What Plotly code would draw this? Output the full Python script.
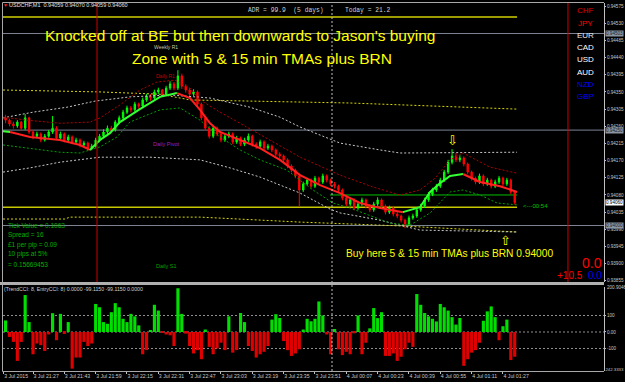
import plotly.graph_objects as go

# ---------------- data ----------------
time_tick_minute = [1, 16, 32, 48, 64, 80, 96, 112, 128, 144, 160, 176, 192, 208, 224, 240, 256]
time_tick_label = ["3 Jul 2015", "3 Jul 21:27", "3 Jul 21:43", "3 Jul 21:59", "3 Jul 22:15",
                   "3 Jul 22:31", "3 Jul 22:47", "3 Jul 23:03", "3 Jul 23:19", "3 Jul 23:35",
                   "3 Jul 23:51", "4 Jul 00:07", "4 Jul 00:23", "4 Jul 00:39", "4 Jul 00:55",
                   "4 Jul 01:11", "4 Jul 01:27"]
price_ticks = [0.94575, 0.94530, 0.94485, 0.94440, 0.94395, 0.94350, 0.94305, 0.94260,
               0.94215, 0.94170, 0.94125, 0.94080, 0.94035, 0.93990, 0.93945, 0.93900, 0.93855]
cci_ticks = [100, 0, -100]
cci_tick_text = ["100", "0.00", "-100"]

# bars: minutes after 3 Jul 21:11 (2-minute candles)
bar_minute = list(range(2, 263, 2))

opens = [0.94282, 0.94276, 0.94266, 0.94261, 0.94271, 0.94255, 0.94282, 0.94245, 0.94234, 0.94240,
         0.94224, 0.94234, 0.94245, 0.94255, 0.94229, 0.94240, 0.94224, 0.94232, 0.94219, 0.94224,
         0.94211, 0.94216, 0.94203, 0.94208, 0.94224, 0.94234, 0.94245, 0.94255, 0.94250, 0.94271,
         0.94282, 0.94297, 0.94308, 0.94303, 0.94318, 0.94313, 0.94329, 0.94339, 0.94334, 0.94350,
         0.94355, 0.94344, 0.94360, 0.94371, 0.94360, 0.94392, 0.94365, 0.94355, 0.94344, 0.94350,
         0.94318, 0.94282, 0.94255, 0.94234, 0.94255, 0.94240, 0.94224, 0.94234, 0.94240, 0.94219,
         0.94229, 0.94213, 0.94224, 0.94234, 0.94213, 0.94208, 0.94219, 0.94203, 0.94208, 0.94198,
         0.94187, 0.94182, 0.94172, 0.94156, 0.94145, 0.94130, 0.94093, 0.94109, 0.94119, 0.94103,
         0.94124, 0.94114, 0.94130, 0.94119, 0.94109, 0.94103, 0.94093, 0.94072, 0.94056, 0.94067,
         0.94046, 0.94056, 0.94067, 0.94051, 0.94041, 0.94056, 0.94067, 0.94051, 0.94035, 0.94046,
         0.94030, 0.94025, 0.94014, 0.94004, 0.94020, 0.94025, 0.94041, 0.94051, 0.94067, 0.94082,
         0.94093, 0.94103, 0.94119, 0.94140, 0.94166, 0.94182, 0.94172, 0.94177, 0.94161, 0.94140,
         0.94124, 0.94114, 0.94130, 0.94109, 0.94119, 0.94103, 0.94114, 0.94124, 0.94109, 0.94119,
         0.94088]
highs = [0.94290, 0.94280, 0.94272, 0.94276, 0.94274, 0.94292, 0.94285, 0.94250, 0.94246, 0.94244,
         0.94240, 0.94250, 0.94287, 0.94260, 0.94246, 0.94244, 0.94238, 0.94236, 0.94230, 0.94228,
         0.94222, 0.94220, 0.94214, 0.94230, 0.94240, 0.94252, 0.94262, 0.94261, 0.94276, 0.94288,
         0.94303, 0.94314, 0.94313, 0.94324, 0.94322, 0.94335, 0.94345, 0.94344, 0.94356, 0.94361,
         0.94358, 0.94366, 0.94378, 0.94376, 0.94407, 0.94398, 0.94370, 0.94360, 0.94357, 0.94354,
         0.94322, 0.94286, 0.94260, 0.94262, 0.94259, 0.94244, 0.94240, 0.94246, 0.94244, 0.94235,
         0.94233, 0.94230, 0.94241, 0.94238, 0.94218, 0.94225, 0.94223, 0.94214, 0.94212, 0.94202,
         0.94192, 0.94186, 0.94176, 0.94160, 0.94149, 0.94134, 0.94115, 0.94125, 0.94123, 0.94130,
         0.94128, 0.94136, 0.94134, 0.94123, 0.94114, 0.94107, 0.94097, 0.94076, 0.94073, 0.94071,
         0.94062, 0.94073, 0.94071, 0.94055, 0.94062, 0.94074, 0.94071, 0.94055, 0.94052, 0.94050,
         0.94035, 0.94029, 0.94018, 0.94026, 0.94031, 0.94047, 0.94057, 0.94073, 0.94088, 0.94099,
         0.94109, 0.94125, 0.94146, 0.94172, 0.94200, 0.94190, 0.94184, 0.94181, 0.94165, 0.94144,
         0.94128, 0.94136, 0.94134, 0.94125, 0.94123, 0.94120, 0.94130, 0.94128, 0.94125, 0.94123,
         0.94092]
lows = [0.94268, 0.94260, 0.94254, 0.94256, 0.94248, 0.94250, 0.94240, 0.94226, 0.94229, 0.94218,
        0.94220, 0.94230, 0.94240, 0.94224, 0.94225, 0.94218, 0.94219, 0.94213, 0.94214, 0.94205,
        0.94206, 0.94197, 0.94198, 0.94204, 0.94220, 0.94230, 0.94240, 0.94244, 0.94246, 0.94266,
        0.94277, 0.94292, 0.94296, 0.94298, 0.94306, 0.94308, 0.94324, 0.94327, 0.94329, 0.94344,
        0.94338, 0.94339, 0.94355, 0.94354, 0.94355, 0.94358, 0.94348, 0.94338, 0.94339, 0.94312,
        0.94276, 0.94248, 0.94228, 0.94229, 0.94234, 0.94218, 0.94219, 0.94229, 0.94213, 0.94214,
        0.94208, 0.94208, 0.94219, 0.94207, 0.94201, 0.94203, 0.94197, 0.94198, 0.94192, 0.94181,
        0.94176, 0.94166, 0.94150, 0.94139, 0.94124, 0.94049, 0.94088, 0.94104, 0.94097, 0.94098,
        0.94108, 0.94109, 0.94113, 0.94103, 0.94097, 0.94087, 0.94066, 0.94050, 0.94051, 0.94040,
        0.94041, 0.94051, 0.94045, 0.94035, 0.94036, 0.94051, 0.94045, 0.94029, 0.94030, 0.94024,
        0.94019, 0.94008, 0.93993, 0.93999, 0.94015, 0.94020, 0.94036, 0.94046, 0.94062, 0.94077,
        0.94088, 0.94098, 0.94114, 0.94135, 0.94160, 0.94166, 0.94166, 0.94155, 0.94134, 0.94118,
        0.94108, 0.94109, 0.94103, 0.94104, 0.94097, 0.94098, 0.94109, 0.94103, 0.94104, 0.94082,
        0.94055]
closes = [0.94276, 0.94266, 0.94261, 0.94271, 0.94255, 0.94282, 0.94245, 0.94234, 0.94240, 0.94224,
          0.94234, 0.94245, 0.94255, 0.94229, 0.94240, 0.94224, 0.94232, 0.94219, 0.94224, 0.94211,
          0.94216, 0.94203, 0.94208, 0.94224, 0.94234, 0.94245, 0.94255, 0.94250, 0.94271, 0.94282,
          0.94297, 0.94308, 0.94303, 0.94318, 0.94313, 0.94329, 0.94339, 0.94334, 0.94350, 0.94355,
          0.94344, 0.94360, 0.94371, 0.94360, 0.94392, 0.94365, 0.94355, 0.94344, 0.94350, 0.94318,
          0.94282, 0.94255, 0.94234, 0.94255, 0.94240, 0.94224, 0.94234, 0.94240, 0.94219, 0.94229,
          0.94213, 0.94224, 0.94234, 0.94213, 0.94208, 0.94219, 0.94203, 0.94208, 0.94198, 0.94187,
          0.94182, 0.94172, 0.94156, 0.94145, 0.94130, 0.94093, 0.94109, 0.94119, 0.94103, 0.94124,
          0.94114, 0.94130, 0.94119, 0.94109, 0.94103, 0.94093, 0.94072, 0.94056, 0.94067, 0.94046,
          0.94056, 0.94067, 0.94051, 0.94041, 0.94056, 0.94067, 0.94051, 0.94035, 0.94046, 0.94030,
          0.94025, 0.94014, 0.94004, 0.94020, 0.94025, 0.94041, 0.94051, 0.94067, 0.94082, 0.94093,
          0.94103, 0.94119, 0.94140, 0.94166, 0.94182, 0.94172, 0.94177, 0.94161, 0.94140, 0.94124,
          0.94114, 0.94130, 0.94109, 0.94119, 0.94103, 0.94114, 0.94124, 0.94109, 0.94119, 0.94088,
          0.94060]

cci = [70, -30, -60, -175, -60, 224, 60, -135, -70, -80,
       -115, -15, 114, -50, 110, -12, 60, -222, -155, -155,
       -60, -85, -70, 170, 150, 60, 50, 120, 175, 150,
       80, 60, 110, 95, 40, -135, -110, 10, 165, 130,
       -5, -15, -20, -85, 265, 110, -10, -85, -130, -110,
       -165, 15, -90, -135, -100, -65, -110, 95, -125, -110,
       115, 60, -85, -115, -155, -135, -120, -85, 75, 108,
       85, -55, -110, -145, -130, -105, 15, 80, 65, 80,
       185, 100, -15, -135, 18, -105, -140, -120, -135, -8,
       100, -135, -65, 22, 145, 84, 120, -145, -145, -130,
       -175, -150, -105, -65, -90, 230, 165, 115, 95, 80,
       64, 170, 150, 130, 90, 45, 85, -205, -165, -125,
       -110, -65, 68, 125, 155, 90, -50, 35, 75, -170,
       -150]

# 5-min TMA centre line, split into rising (green) / falling (red) runs
mid_seg_t = [[-1, 4.3],
             [4.3, 14.5, 29.8, 40.0, 45.1],
             [45.1, 50.2, 55.3, 60.4, 70.6, 80.9, 89.5],
             [89.5, 96.2, 101.3, 106.4, 111.5, 121.7, 131.9, 142.1, 152.4, 162.6, 172.8, 183.0, 193.2, 204.9],
             [204.9, 213.6, 218.8, 223.9, 229.0, 235.6],
             [235.6, 244.3, 254.5, 263.2]]
mid_seg_p = [[0.94248, 0.94245],
             [0.94245, 0.94232, 0.94224, 0.94211, 0.94198],
             [0.94198, 0.94224, 0.94242, 0.94271, 0.94305, 0.94337, 0.94347],
             [0.94347, 0.94334, 0.94303, 0.94268, 0.94245, 0.94224, 0.94203, 0.94172, 0.94132, 0.94106,
              0.94085, 0.94059, 0.94046, 0.94035],
             [0.94035, 0.94048, 0.94088, 0.94111, 0.94130, 0.94135],
             [0.94135, 0.94114, 0.94103, 0.94088]]
mid_seg_up = [True, False, True, False, True, False]

tma5_up_t = [0.7, 12.9, 29.8, 45.1, 50.2, 60.4, 70.6, 79.3, 88.5, 96.2, 101.3, 111.5, 121.7, 137.0,
             152.4, 172.8, 189.6, 203.4, 213.6, 221.3, 229.0, 235.6, 249.4, 263.2]
tma5_up_p = [0.94284, 0.94276, 0.94268, 0.94271, 0.94282, 0.94316, 0.94355, 0.94376, 0.94381, 0.94360,
             0.94329, 0.94297, 0.94268, 0.94224, 0.94179, 0.94132, 0.94101, 0.94080, 0.94093, 0.94124,
             0.94172, 0.94190, 0.94153, 0.94137]
tma5_dn_t = [0.7, 29.8, 40.0, 50.2, 58.9, 65.5, 70.6, 80.9, 91.1, 101.3, 111.5, 121.7, 131.9, 145.7,
             159.0, 169.2, 177.9, 198.3, 208.5, 218.8, 229.0, 235.6, 244.3, 253.0, 263.2]
tma5_dn_p = [0.94211, 0.94192, 0.94190, 0.94206, 0.94232, 0.94271, 0.94282, 0.94303, 0.94308, 0.94276,
             0.94232, 0.94198, 0.94172, 0.94145, 0.94093, 0.94059, 0.94046, 0.94006, 0.94001, 0.94033,
             0.94088, 0.94093, 0.94080, 0.94059, 0.94054]
tma15_up_t = [0.7, 16.0, 33.4, 47.7, 65.5, 86.0, 106.4, 126.8, 142.1, 152.4, 162.6, 172.8, 193.2, 203.4, 263.2]
tma15_up_p = [0.94282, 0.94297, 0.94310, 0.94326, 0.94337, 0.94342, 0.94334, 0.94310, 0.94284, 0.94258,
              0.94237, 0.94216, 0.94198, 0.94190, 0.94192]
tma15_dn_t = [0.7, 14.5, 29.8, 50.2, 75.8, 101.3, 116.6, 131.9, 152.4, 167.7, 172.8, 193.2, 213.6, 263.2]
tma15_dn_p = [0.94140, 0.94151, 0.94166, 0.94179, 0.94179, 0.94172, 0.94151, 0.94127, 0.94085, 0.94043,
              0.94033, 0.94014, 0.93988, 0.93983]
tma60_up_t = [0.7, 50.2, 80.9, 96.2, 177.9, 263.2]
tma60_up_p = [0.94355, 0.94350, 0.94344, 0.94329, 0.94321, 0.94305]
tma60_dn_t = [0.7, 32.3, 34.9, 101.3, 152.4, 203.4, 263.2]
tma60_dn_p = [0.94017, 0.94017, 0.94022, 0.94022, 0.94009, 0.93999, 0.93983]

gray_levels = [0.94503, 0.94250, 0.94000]
adr_level = 0.94546
brn_zone_level = 0.94048
green_level = 0.94080
green_level_start = 167.7
last_bar_end = 263.2
red_vlines = [48.7, 289.2]
dotted_vline = 168.7
bid_price = 0.94060

# ---------------- layout helpers (pixels -> paper) ----------------
W, H = 625, 382
ML, MR, MT, MB = 3, 21, 3, 11
PW, PH = W - ML - MR, H - MT - MB


def fx(px):
    return (px - ML) / PW


def fy(py):
    return (H - MB - py) / PH


XR = [0.68, 307.6]
FONT = "Liberation Sans"

fig = go.Figure()

# TMA bands (dotted)
bands = [(tma60_up_t, tma60_up_p, "#d8d800"), (tma60_dn_t, tma60_dn_p, "#d8d800"),
         (tma15_up_t, tma15_up_p, "#c8c8c8"), (tma15_dn_t, tma15_dn_p, "#c8c8c8"),
         (tma5_up_t, tma5_up_p, "#b00000"), (tma5_dn_t, tma5_dn_p, "#00a000")]
for t, p, c in bands:
    fig.add_trace(go.Scatter(x=t, y=p, mode="lines", line=dict(color=c, width=1, dash="2px,2px"),
                             xaxis="x", yaxis="y", hoverinfo="skip"))

fig.add_trace(go.Candlestick(
    x=bar_minute, open=opens, high=highs, low=lows, close=closes,
    increasing=dict(line=dict(color="#00ff00", width=1), fillcolor="#00ff00"),
    decreasing=dict(line=dict(color="#ff0000", width=1), fillcolor="#ff0000"),
    whiskerwidth=0, xaxis="x", yaxis="y"))

for t, p, up in zip(mid_seg_t, mid_seg_p, mid_seg_up):
    fig.add_trace(go.Scatter(x=t, y=p, mode="lines",
                             line=dict(color="#33ff33" if up else "#ff2020", width=2),
                             xaxis="x", yaxis="y", hoverinfo="skip"))

fig.add_trace(go.Bar(x=bar_minute, y=cci, width=1.6,
                     marker=dict(color=["#00e000" if v >= 0 else "#e00000" for v in cci], line=dict(width=0)),
                     xaxis="x2", yaxis="y2"))

shapes = []
for lv in gray_levels:
    shapes.append(dict(type="line", xref="paper", x0=0, x1=1, yref="y", y0=lv, y1=lv,
                       line=dict(color="#7c8494", width=1), layer="below"))
shapes.append(dict(type="line", xref="x", x0=XR[0], x1=last_bar_end, yref="y", y0=adr_level, y1=adr_level,
                   line=dict(color="#d0d000", width=1.5)))
shapes.append(dict(type="line", xref="x", x0=XR[0], x1=last_bar_end, yref="y", y0=brn_zone_level,
                   y1=brn_zone_level, line=dict(color="#c8c800", width=1.5), layer="below"))
shapes.append(dict(type="line", xref="x", x0=green_level_start, x1=last_bar_end, yref="y", y0=green_level,
                   y1=green_level, line=dict(color="#00c000", width=1), layer="below"))
for vx in red_vlines:
    shapes.append(dict(type="line", xref="x", x0=vx, x1=vx, yref="paper", y0=fy(282), y1=fy(2.5),
                       line=dict(color="#d00000", width=1)))
shapes.append(dict(type="line", xref="x", x0=dotted_vline, x1=dotted_vline, yref="paper", y0=fy(371),
                   y1=fy(2.5), line=dict(color="#c0c0c0", width=1, dash="2px,2px")))
for lv in cci_ticks:
    shapes.append(dict(type="line", xref="paper", x0=0, x1=1, yref="y2", y0=lv, y1=lv,
                       line=dict(color="#909090", width=1, dash="2px,2px"), layer="below"))
# frame / separators
frame = "#a8a8a8"
shapes += [
    dict(type="rect", xref="paper", yref="paper", x0=fx(0), x1=fx(604), y0=fy(285), y1=fy(282),
         line=dict(width=0), fillcolor="#b0b0b0"),
    dict(type="line", xref="paper", yref="paper", x0=fx(2.5), x1=fx(604), y0=fy(2.5), y1=fy(2.5),
         line=dict(color=frame, width=1)),
    dict(type="line", xref="paper", yref="paper", x0=fx(2.5), x1=fx(2.5), y0=fy(371.5), y1=fy(2.5),
         line=dict(color=frame, width=1)),
    dict(type="line", xref="paper", yref="paper", x0=fx(2.5), x1=fx(604), y0=fy(371.5), y1=fy(371.5),
         line=dict(color=frame, width=1)),
]


def txt(px, py, s, color, size, family=FONT, xanchor="left", yanchor="middle", bg=None):
    d = dict(x=fx(px), y=fy(py), xref="paper", yref="paper", text=s, showarrow=False,
             font=dict(color=color, size=size, family=family), xanchor=xanchor, yanchor=yanchor,
             borderpad=0)
    if bg:
        d["bgcolor"] = bg
    return d


ann = [
    txt(2, 5, "▼", "#ff2020", 5),
    txt(8, 5, "USDCHF,M1  0.94059 0.94070 0.94059 0.94060", "#e0e0e0", 5.5),
    txt(247, 10, "ADR = 99.9  (5 days)", "#d0d0d0", 6.3, family="Liberation Mono"),
    txt(344, 10, "Today = 21.2", "#d0d0d0", 6.3, family="Liberation Mono"),
    txt(44, 35, "Knocked off at BE but then downwards to Jason's buying", "#ffff00", 15.5),
    txt(131, 58, "Zone with 5 & 15 min TMAs plus BRN", "#ffff00", 15.5),
    txt(153, 47, "Weekly R1", "#c8c8a0", 5),
    txt(155, 76, "Daily R1", "#c00000", 5),
    txt(152, 144, "Daily Pivot", "#a020c0", 5.5),
    txt(155, 266, "Daily S1", "#00a000", 5.5),
    txt(7, 225, "Tick Value = 0.1063", "#00b000", 6.5),
    txt(7, 235, "Spread = 16", "#00b000", 6.5),
    txt(7, 245, "£1 per pip = 0.09", "#00b000", 6.5),
    txt(7, 254, "10 pips at 5%", "#00b000", 6.5),
    txt(7, 264, "= 0.15669453", "#00b000", 6.5),
    txt(522, 206, "<---00:54", "#00c000", 6),
    txt(345, 253, "Buy here 5 & 15 min TMAs plus BRN 0.94000", "#ffff00", 10.2),
    txt(452, 140, "⇩", "#ffff00", 13, family="DejaVu Sans", xanchor="center"),
    txt(505.5, 240, "⇧", "#ffff00", 13, family="DejaVu Sans", xanchor="center"),
    txt(592, 262.5, "0.0", "#ff0000", 14, xanchor="center"),
    txt(569.5, 275, "+10.5", "#ff0000", 10, xanchor="center"),
    txt(595, 275, "0.0", "#0000ff", 10, xanchor="center"),
    txt(3, 289, "(TrendCCI: 8, EntryCCI: 8) 0.0000 -99.1150 -99.1150 0.0000", "#d0d0d0", 5.2),
    txt(606, 287.5, "200.9046", "#c8c8c8", 4.6),
    txt(624.5, 369.5, "-242.3333", "#c8c8c8", 4.3, xanchor="right"),
]
currencies = [("CHF", "#e00000"), ("JPY", "#ff0000"), ("EUR", "#e8e8e8"), ("CAD", "#ffffff"),
              ("USD", "#ffffff"), ("AUD", "#ffffff"), ("NZD", "#0000ff"), ("GBP", "#0000ff")]
for k, (name, col) in enumerate(currencies):
    ann.append(txt(585, 10.7 + 12.3 * k, name, col, 8, xanchor="center"))
for lv, bg, fc in [(gray_levels[0], "#8c96a2", "#202020"), (gray_levels[1], "#8c96a2", "#202020"),
                   (gray_levels[2], "#8c96a2", "#202020"), (bid_price, "#ffffff", "#000000")]:
    ann.append(dict(x=fx(605), xref="paper", y=lv, yref="y", text=f"{lv:.5f}", showarrow=False,
                    xanchor="left", yanchor="middle", bgcolor=bg, borderpad=0,
                    font=dict(color=fc, size=4.6, family=FONT)))

axis_font = dict(color="#c8c8c8", size=4.6, family=FONT)
fig.update_layout(
    template="none", width=W, height=H, margin=dict(l=ML, r=MR, t=MT, b=MB),
    paper_bgcolor="black", plot_bgcolor="black", showlegend=False, boxgap=0.5,
    shapes=shapes, annotations=ann,
    xaxis=dict(domain=[0, 1], range=XR, anchor="y", showticklabels=False, showgrid=False,
               zeroline=False, showline=False, ticks="", rangeslider=dict(visible=False),
               automargin=False),
    xaxis2=dict(domain=[0, 1], range=XR, anchor="y2", tickvals=time_tick_minute, ticktext=time_tick_label,
                ticks="outside", ticklen=2, tickcolor="#c0c0c0",
                tickfont=dict(color="#c8c8c8", size=5.2, family=FONT), tickangle=0,
                ticklabelposition="outside right", showgrid=False, zeroline=False, showline=False,
                automargin=False),
    yaxis=dict(domain=[fy(282), 1], range=[0.93852, 0.94583], side="right", anchor="x",
               tickvals=price_ticks, tickformat=".5f", tickfont=axis_font, ticks="outside", ticklen=1,
               tickcolor="#c0c0c0", showgrid=False, zeroline=False, showline=True, linecolor="#c0c0c0",
               automargin=False),
    yaxis2=dict(domain=[0, fy(287)], range=[-236.4, 272.7], side="right", anchor="x2",
                tickvals=cci_ticks, ticktext=cci_tick_text, tickfont=axis_font, ticks="outside", ticklen=1,
                tickcolor="#c0c0c0", showgrid=False, zeroline=False, showline=True, linecolor="#c0c0c0",
                automargin=False),
)

fig.write_html("out.html")
